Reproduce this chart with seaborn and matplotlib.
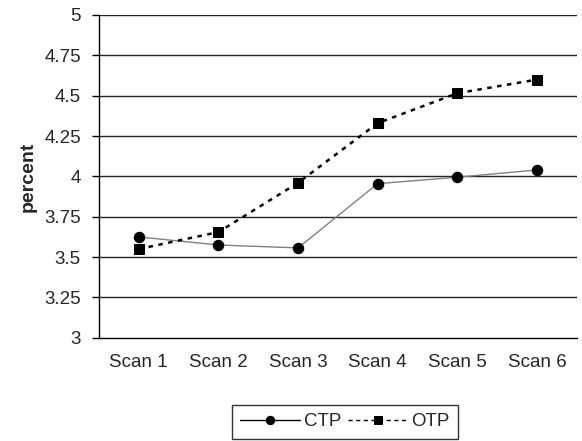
import numpy as np
import pandas as pd
import matplotlib
matplotlib.use("Agg")
import matplotlib.pyplot as plt
import seaborn as sns
from matplotlib.ticker import FixedLocator

sns.set_style("white")
plt.rcParams["font.family"] = ["Liberation Sans", "DejaVu Sans"]

scans = ["Scan 1", "Scan 2", "Scan 3", "Scan 4", "Scan 5", "Scan 6"]
ctp = [3.625, 3.575, 3.557, 3.955, 3.995, 4.04]
otp = [3.55, 3.655, 3.96, 4.33, 4.515, 4.60]
y_ticks = [3, 3.25, 3.5, 3.75, 4, 4.25, 4.5, 4.75, 5]

df = pd.DataFrame({
    "scan": scans * 2,
    "value": ctp + otp,
    "series": ["CTP"] * len(scans) + ["OTP"] * len(scans),
})

fig = plt.figure(figsize=(5.82, 4.41), dpi=100)
ax = fig.add_axes([0.170, 0.234, 0.821, 0.732])

sns.lineplot(data=df[df.series == "CTP"], x="scan", y="value", ax=ax,
             color="#808080", linewidth=1.0, marker="o", markersize=7.5,
             markerfacecolor="black", markeredgecolor="black", label="CTP")
sns.lineplot(data=df[df.series == "OTP"], x="scan", y="value", ax=ax,
             color="black", linewidth=1.8, linestyle=(0, (1.8, 2.2)), marker="s",
             markersize=6.5, markerfacecolor="black", markeredgecolor="black",
             label="OTP")

ax.set_xlim(-0.5, len(scans) - 0.5)
ax.set_ylim(3, 5)
ax.set_yticks(y_ticks)
ax.set_yticklabels([f"{t:g}" for t in y_ticks], fontsize=13.5)
ax.set_xticks(range(len(scans)))
ax.set_xticklabels(scans, fontsize=13.5)
ax.xaxis.set_minor_locator(FixedLocator(np.arange(-0.5, len(scans), 1.0)))
ax.tick_params(axis="x", which="major", length=0, pad=12)
ax.tick_params(axis="x", which="minor", length=5, width=1, color="black", direction="out")
ax.tick_params(axis="y", length=5, width=1, color="black", direction="out",
               left=True, pad=8)

for t in y_ticks[1:]:
    ax.axhline(t, color="#222222", linewidth=1.0, zorder=0)

for side in ["top", "right"]:
    ax.spines[side].set_visible(False)
for side in ["left", "bottom"]:
    ax.spines[side].set_color("black")
    ax.spines[side].set_linewidth(1)

ax.set_xlabel("")
ax.set_ylabel("percent", fontsize=14, fontweight="bold")
ax.yaxis.set_label_coords(-0.13, 0.5)

leg = ax.legend(loc="lower center", bbox_to_anchor=(0.515, -0.313), ncol=2,
                frameon=True, fancybox=False, fontsize=13.5, handlelength=3.2,
                columnspacing=0.35, handletextpad=0.2, borderpad=0.45,
                borderaxespad=0)
leg.get_frame().set_edgecolor("black")
leg.get_frame().set_linewidth(1)
for line in leg.get_lines():
    line.set_color("black")
    line.set_linewidth(1.0)
    line.set_markersize(6)
leg.get_lines()[1].set_linestyle((0, (3, 2.5)))

fig.savefig("out.png", dpi=100)
